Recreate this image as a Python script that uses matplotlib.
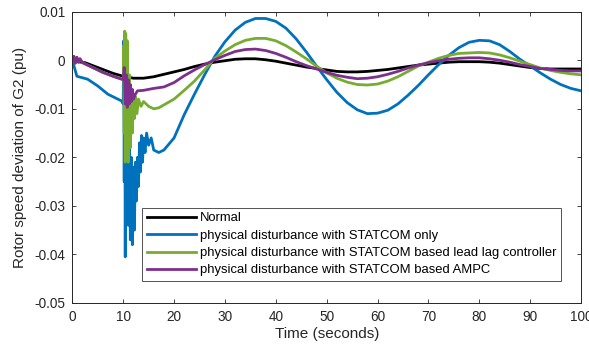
import matplotlib
matplotlib.use("Agg")
import matplotlib.pyplot as plt

plt.rcParams['font.family'] = ['Liberation Sans', 'DejaVu Sans']

# Normal
t_normal = [0, 1, 2.5, 5, 8, 10, 12, 14, 16, 18, 20, 22, 24, 26, 28, 30, 32, 34, 36, 38,
            40, 42, 44, 46, 48, 50, 52, 54, 56, 58, 60, 62, 64, 66, 68, 70, 72, 74, 76,
            78, 80, 82, 84, 86, 88, 90, 92, 94, 96, 98, 100]
v_normal = [0, -0.0003, -0.0005, -0.0015, -0.0027, -0.0033, -0.0037, -0.0037, -0.0034,
            -0.0029, -0.0024, -0.0019, -0.0013, -0.0008, -0.0004, -0.0001, 0.0002, 0.0003,
            0.0003, 0.0001, -0.0002, -0.0006, -0.0010, -0.0014, -0.0017, -0.0020, -0.0023,
            -0.0024, -0.0024, -0.0023, -0.0021, -0.0019, -0.0016, -0.0013, -0.0010, -0.0008,
            -0.0006, -0.0004, -0.0003, -0.0003, -0.0003, -0.0004, -0.0006, -0.0009, -0.0012,
            -0.0015, -0.0017, -0.0018, -0.0018, -0.0018, -0.0018]

# STATCOM only
t_only = [0, 0.9, 3, 5, 7, 9.7, 10.0, 10.1, 10.2, 10.3, 10.4, 10.5, 10.6, 10.8, 11.0, 11.2,
          11.4, 11.6, 11.8, 12.0, 12.2, 12.4, 12.6, 12.8, 13.0, 13.2, 13.4, 13.6, 13.8, 14.0,
          14.3, 14.6, 15.0, 15.5, 16.0, 17.0, 18, 20, 22, 24, 26, 28, 30, 32, 34, 36, 38,
          40, 42, 44, 46, 48, 50, 52, 54, 56, 58, 60, 62, 64, 66, 68, 70, 72, 74, 76, 78,
          80, 82, 84, 86, 88, 90, 92, 94, 96, 98, 100]
v_only = [0, -0.0033, -0.0039, -0.0053, -0.0070, -0.0084, -0.0090, 0.0040, -0.0250, 0.0030,
          -0.0405, -0.0050, -0.0330, -0.0120, -0.0340, -0.0150, -0.0370, -0.0200, -0.0380,
          -0.0220, -0.0350, -0.0210, -0.0290, -0.0200, -0.0260, -0.0170, -0.0230, -0.0155,
          -0.0210, -0.0160, -0.0190, -0.0150, -0.0175, -0.0160, -0.0185, -0.0190, -0.0185,
          -0.0160, -0.0112, -0.0070, -0.0030, 0.0008, 0.0038, 0.0062, 0.0078, 0.0086, 0.0086,
          0.0080, 0.0066, 0.0044, 0.0017, -0.0012, -0.0040, -0.0066, -0.0087, -0.0102,
          -0.0110, -0.0109, -0.0103, -0.0090, -0.0072, -0.0052, -0.0030, -0.0009, 0.0010,
          0.0026, 0.0037, 0.0041, 0.0040, 0.0032, 0.0018, 0.0002, -0.0012, -0.0026, -0.0039,
          -0.0050, -0.0058, -0.0063]

# STATCOM based lead lag controller
t_leadlag = [0, 0.3, 0.6, 0.9, 1.2, 1.5, 2, 4, 6, 8, 10.0, 10.1, 10.2, 10.3, 10.4, 10.5,
             10.6, 10.8, 11.0, 11.2, 11.4, 11.6, 11.8, 12.0, 12.2, 12.4, 12.7, 13.0, 13.5,
             14.0, 15.0, 16.0, 17.0, 18, 20, 22, 24, 26, 28, 30, 32, 34, 36, 38, 40, 42, 44,
             46, 48, 50, 52, 54, 56, 58, 60, 62, 64, 66, 68, 70, 72, 74, 76, 78, 80, 82, 84,
             86, 88, 90, 92, 94, 96, 98, 100]
v_leadlag = [0, 0.0008, -0.0006, 0.0006, -0.0004, 0.0003, -0.0005, -0.0015, -0.0025,
             -0.0033, -0.0040, 0.0030, -0.0150, 0.0060, -0.0210, 0.0055, -0.0200, 0.0040,
             -0.0210, -0.0030, -0.0180, -0.0060, -0.0150, -0.0070, -0.0120, -0.0075, -0.0110,
             -0.0080, -0.0095, -0.0085, -0.0095, -0.0100, -0.0098, -0.0092, -0.0080, -0.0062,
             -0.0043, -0.0020, 0.0004, 0.0019, 0.0032, 0.0041, 0.0045, 0.0045, 0.0040, 0.0030,
             0.0017, 0.0003, -0.0012, -0.0026, -0.0037, -0.0045, -0.0050, -0.0051, -0.0049,
             -0.0043, -0.0034, -0.0023, -0.0012, -0.0004, 0.0004, 0.0010, 0.0014, 0.0015,
             0.0016, 0.0015, 0.0011, 0.0005, -0.0002, -0.0009, -0.0016, -0.0021, -0.0025,
             -0.0028, -0.0030]

# STATCOM based AMPC
t_ampc = [0, 0.3, 0.6, 0.9, 1.2, 1.5, 2, 4, 6, 8, 10.0, 10.2, 10.4, 10.6, 10.8, 11.0,
          11.2, 11.4, 11.6, 11.8, 12.0, 12.4, 12.8, 14, 16, 18, 20, 22, 24, 26, 28, 30, 32,
          34, 36, 38, 40, 42, 44, 46, 48, 50, 52, 54, 56, 58, 60, 62, 64, 66, 68, 70, 72,
          74, 76, 78, 80, 82, 84, 86, 88, 90, 92, 94, 96, 98, 100]
v_ampc = [0, 0.0008, -0.0006, 0.0006, -0.0004, 0.0003, -0.0005, -0.0015, -0.0025, -0.0033,
          -0.0040, -0.0015, -0.0090, -0.0030, -0.0097, -0.0040, -0.0090, -0.0050, -0.0085,
          -0.0060, -0.0080, -0.0070, -0.0063, -0.0062, -0.0058, -0.0055, -0.0046, -0.0032,
          -0.0020, -0.0009, 0.0001, 0.0010, 0.0018, 0.0022, 0.0023, 0.0020, 0.0014, 0.0006,
          -0.0003, -0.0011, -0.0018, -0.0025, -0.0031, -0.0035, -0.0038, -0.0037, -0.0034,
          -0.0029, -0.0023, -0.0016, -0.0010, -0.0005, -0.0001, 0.0002, 0.0004, 0.0005,
          0.0005, 0.0003, 0.0000, -0.0004, -0.0009, -0.0013, -0.0017, -0.0019, -0.0021,
          -0.0022, -0.0022]

labels = ['Normal',
          'physical disturbance with STATCOM only',
          'physical disturbance with STATCOM based lead lag controller',
          'physical disturbance with STATCOM based AMPC']
colors = ['#000000', '#0072BD', '#77AC30', '#7E2F8E']

fig = plt.figure(figsize=(5.89, 3.5), dpi=100)
ax = fig.add_axes([0.1228, 0.1343, 0.8637, 0.8323])

series = [(t_normal, v_normal), (t_only, v_only), (t_leadlag, v_leadlag), (t_ampc, v_ampc)]
for (t, v), c, lab in zip(series, colors, labels):
    ax.plot(t, v, color=c, lw=2, label=lab)

ax.set_xlim(0, 100)
ax.set_ylim(-0.05, 0.01)
ax.set_xticks(range(0, 101, 10))
ax.set_yticks([-0.05, -0.04, -0.03, -0.02, -0.01, 0, 0.01])
ax.set_yticklabels(['-0.05', '-0.04', '-0.03', '-0.02', '-0.01', '0', '0.01'])
ax.tick_params(direction='in', top=True, right=True, labelsize=9.8, colors='#262626',
               length=3, width=0.6, pad=5)
for s in ax.spines.values():
    s.set_linewidth(0.7)
    s.set_color('#262626')
ax.set_xlabel('Time (seconds)', fontsize=11, color='#262626', labelpad=2)
ax.set_ylabel('Rotor speed deviation of G2 (pu)', fontsize=11, color='#262626', labelpad=5)

leg = ax.legend(loc='lower left', bbox_to_anchor=(0.137, 0.0755), fontsize=9.4,
                frameon=True, fancybox=False, edgecolor='#262626', handlelength=3.8,
                handletextpad=0.3, borderpad=0.35, labelspacing=0.4, borderaxespad=0)
leg.get_frame().set_linewidth(0.7)

fig.savefig('out.png', dpi=100)
